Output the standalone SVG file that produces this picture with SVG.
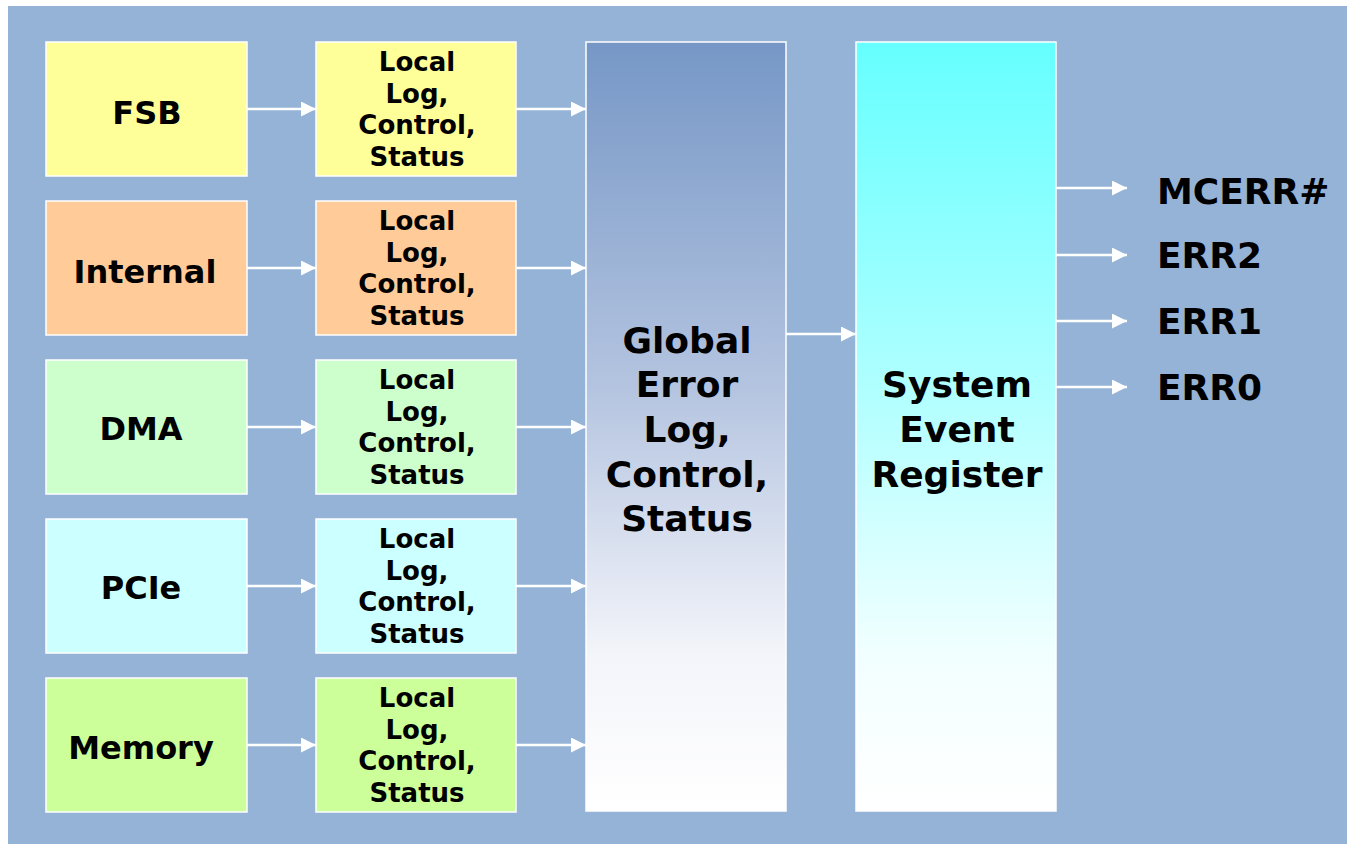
<svg xmlns="http://www.w3.org/2000/svg" width="1347" height="844" viewBox="0 0 1347 844">
  <style>
    .lbl { font-family: "DejaVu Sans", Verdana, sans-serif; font-weight: bold; fill: #000; text-anchor: middle; }
    .src { font-size: 32px; }
    .loc { font-size: 26px; }
    .big { font-size: 36px; }
    .out { font-family: "DejaVu Sans", Verdana, sans-serif; font-weight: bold; font-size: 36px; fill: #000; }
    .box { stroke: #ffffff; stroke-width: 1.5; }
    .wire { stroke: #ffffff; stroke-width: 2.5; fill: none; marker-end: url(#head); }
  </style>
  <defs>
    <marker id="head" viewBox="0 0 10 10" refX="10" refY="5" markerUnits="userSpaceOnUse" markerWidth="15" markerHeight="15" orient="auto">
      <path d="M0,0 L10,5 L0,10 Z" fill="#ffffff"/>
    </marker>
    <linearGradient id="gGlobal" x1="0" y1="0" x2="0" y2="1">
      <stop offset="0" stop-color="#7697C6"/>
      <stop offset="0.45" stop-color="#B4C4E0"/>
      <stop offset="0.8" stop-color="#F4F5FA"/>
      <stop offset="1" stop-color="#FFFFFF"/>
    </linearGradient>
    <linearGradient id="gSystem" x1="0" y1="0" x2="0" y2="1">
      <stop offset="0" stop-color="#66FFFF"/>
      <stop offset="0.45" stop-color="#B0FFFF"/>
      <stop offset="0.8" stop-color="#F2FFFF"/>
      <stop offset="1" stop-color="#FFFFFF"/>
    </linearGradient>
  </defs>

  <!-- page -->
  <rect x="0" y="0" width="1347" height="844" fill="#ffffff"/>
  <rect x="8" y="6" width="1339" height="838" fill="#95B3D7"/>

  <!-- connectors -->
  <g id="connectors">
    <line class="wire" x1="247" y1="109" x2="316" y2="109"/>
    <line class="wire" x1="516" y1="109" x2="586" y2="109"/>
    <line class="wire" x1="247" y1="268" x2="316" y2="268"/>
    <line class="wire" x1="516" y1="268" x2="586" y2="268"/>
    <line class="wire" x1="247" y1="427" x2="316" y2="427"/>
    <line class="wire" x1="516" y1="427" x2="586" y2="427"/>
    <line class="wire" x1="247" y1="586" x2="316" y2="586"/>
    <line class="wire" x1="516" y1="586" x2="586" y2="586"/>
    <line class="wire" x1="247" y1="745" x2="316" y2="745"/>
    <line class="wire" x1="516" y1="745" x2="586" y2="745"/>
    <line class="wire" x1="786" y1="334" x2="856" y2="334"/>
    <line class="wire" x1="1056" y1="188" x2="1127" y2="188"/>
    <line class="wire" x1="1056" y1="255" x2="1127" y2="255"/>
    <line class="wire" x1="1056" y1="321" x2="1127" y2="321"/>
    <line class="wire" x1="1056" y1="387" x2="1127" y2="387"/>
  </g>

  <!-- sources -->
  <g id="fsb">
    <rect class="box" x="46" y="42" width="201" height="134" fill="#FFFF99"/>
    <text class="lbl src" x="147" y="124">FSB</text>
  </g>
  <g id="internal">
    <rect class="box" x="46" y="201" width="201" height="134" fill="#FFCC99"/>
    <text class="lbl src" x="145" y="283">Internal</text>
  </g>
  <g id="dma">
    <rect class="box" x="46" y="360" width="201" height="134" fill="#CCFFCC"/>
    <text class="lbl src" x="141" y="440">DMA</text>
  </g>
  <g id="pcie">
    <rect class="box" x="46" y="519" width="201" height="134" fill="#CCFFFF"/>
    <text class="lbl src" x="141" y="599">PCIe</text>
  </g>
  <g id="memory">
    <rect class="box" x="46" y="678" width="201" height="134" fill="#CCFF99"/>
    <text class="lbl src" x="141" y="759">Memory</text>
  </g>

  <!-- local log / control / status blocks -->
  <g id="local-fsb">
    <rect class="box" x="316" y="42" width="200" height="134" fill="#FFFF99"/>
    <text class="lbl loc" x="417" y="71">Local</text>
    <text class="lbl loc" x="417" y="103">Log,</text>
    <text class="lbl loc" x="417" y="134">Control,</text>
    <text class="lbl loc" x="417" y="166">Status</text>
  </g>
  <g id="local-internal">
    <rect class="box" x="316" y="201" width="200" height="134" fill="#FFCC99"/>
    <text class="lbl loc" x="417" y="230">Local</text>
    <text class="lbl loc" x="417" y="262">Log,</text>
    <text class="lbl loc" x="417" y="293">Control,</text>
    <text class="lbl loc" x="417" y="325">Status</text>
  </g>
  <g id="local-dma">
    <rect class="box" x="316" y="360" width="200" height="134" fill="#CCFFCC"/>
    <text class="lbl loc" x="417" y="389">Local</text>
    <text class="lbl loc" x="417" y="421">Log,</text>
    <text class="lbl loc" x="417" y="452">Control,</text>
    <text class="lbl loc" x="417" y="484">Status</text>
  </g>
  <g id="local-pcie">
    <rect class="box" x="316" y="519" width="200" height="134" fill="#CCFFFF"/>
    <text class="lbl loc" x="417" y="548">Local</text>
    <text class="lbl loc" x="417" y="580">Log,</text>
    <text class="lbl loc" x="417" y="611">Control,</text>
    <text class="lbl loc" x="417" y="643">Status</text>
  </g>
  <g id="local-memory">
    <rect class="box" x="316" y="678" width="200" height="134" fill="#CCFF99"/>
    <text class="lbl loc" x="417" y="707">Local</text>
    <text class="lbl loc" x="417" y="739">Log,</text>
    <text class="lbl loc" x="417" y="770">Control,</text>
    <text class="lbl loc" x="417" y="802">Status</text>
  </g>

  <!-- global error block -->
  <g id="global">
    <rect class="box" x="586" y="42" width="200" height="769" fill="url(#gGlobal)"/>
    <text class="lbl big" x="687" y="353">Global</text>
    <text class="lbl big" x="687" y="397">Error</text>
    <text class="lbl big" x="687" y="442">Log,</text>
    <text class="lbl big" x="687" y="487">Control,</text>
    <text class="lbl big" x="687" y="531">Status</text>
  </g>

  <!-- system event register -->
  <g id="system">
    <rect class="box" x="856" y="42" width="200" height="769" fill="url(#gSystem)"/>
    <text class="lbl big" x="957" y="397">System</text>
    <text class="lbl big" x="957" y="442">Event</text>
    <text class="lbl big" x="957" y="487">Register</text>
  </g>

  <!-- output signals -->
  <g id="outputs">
    <text class="out" x="1157" y="204">MCERR#</text>
    <text class="out" x="1157" y="268">ERR2</text>
    <text class="out" x="1157" y="334">ERR1</text>
    <text class="out" x="1157" y="400">ERR0</text>
  </g>
</svg>
